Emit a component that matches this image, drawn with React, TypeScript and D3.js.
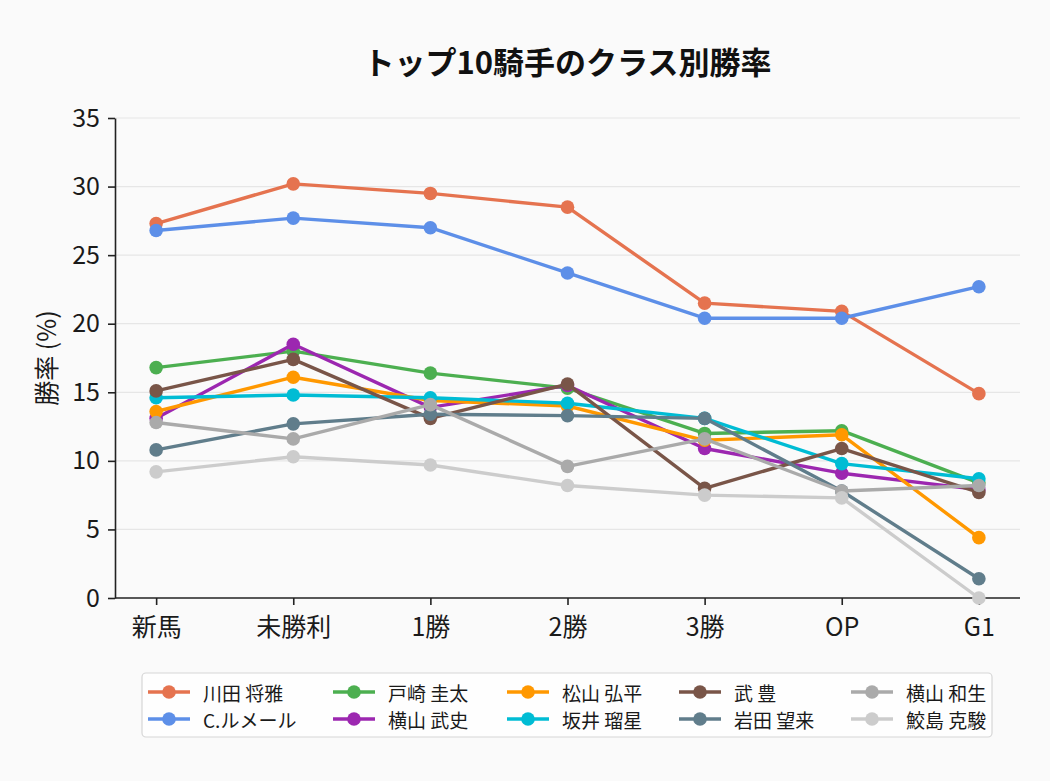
import React, { useEffect, useRef } from "react";
import * as d3 from "d3";

// classes on the x axis
const classes = ["新馬", "未勝利", "1勝", "2勝", "3勝", "OP", "G1"];
const yTicks = [0, 5, 10, 15, 20, 25, 30, 35];

const jockeys = [
  "川田 将雅",
  "C.ルメール",
  "戸崎 圭太",
  "横山 武史",
  "松山 弘平",
  "坂井 瑠星",
  "武 豊",
  "岩田 望来",
  "横山 和生",
  "鮫島 克駿",
];

const colors = [
  "#e5734f",
  "#5d8fe8",
  "#4caf50",
  "#9c27b0",
  "#ff9800",
  "#00bcd4",
  "#795548",
  "#607d8b",
  "#aaaaaa",
  "#cccccc",
];

// win rate (%) per class
const kawada = [27.3, 30.2, 29.5, 28.5, 21.5, 20.9, 14.9];
const lemaire = [26.8, 27.7, 27.0, 23.7, 20.4, 20.4, 22.7];
const tosaki = [16.8, 18.0, 16.4, 15.3, 12.0, 12.2, 8.4];
const yokoyamaTakeshi = [13.1, 18.5, 13.9, 15.5, 10.9, 9.1, 7.9];
const matsuyama = [13.6, 16.1, 14.4, 14.0, 11.5, 11.9, 4.4];
const sakai = [14.6, 14.8, 14.6, 14.2, 13.1, 9.8, 8.7];
const take = [15.1, 17.4, 13.1, 15.6, 8.0, 10.9, 7.7];
const iwata = [10.8, 12.7, 13.4, 13.3, 13.1, 7.8, 1.4];
const yokoyamaKazuo = [12.8, 11.6, 14.1, 9.6, 11.6, 7.8, 8.2];
const samejima = [9.2, 10.3, 9.7, 8.2, 7.5, 7.3, 0.0];

const series = [
  kawada,
  lemaire,
  tosaki,
  yokoyamaTakeshi,
  matsuyama,
  sakai,
  take,
  iwata,
  yokoyamaKazuo,
  samejima,
];

const App = () => {
  const chartRef = useRef<HTMLDivElement>(null);

  useEffect(() => {
    document.body.style.margin = "0";

    const width = 1050;
    const height = 781;
    const marginTop = 118;
    const marginRight = 30;
    const marginBottom = 183;
    const marginLeft = 115;
    const font = "'Noto Sans CJK JP', 'Noto Sans', sans-serif";

    const x = d3
      .scalePoint<string>()
      .domain(classes)
      .range([marginLeft, width - marginRight])
      .padding(0.3);

    const y = d3
      .scaleLinear()
      .domain([0, 35])
      .range([height - marginBottom, marginTop]);

    d3.select(chartRef.current).selectAll("*").remove();

    const svg = d3
      .select(chartRef.current)
      .append("svg")
      .attr("width", width)
      .attr("height", height)
      .attr("viewBox", [0, 0, width, height])
      .style("display", "block")
      .style("font-family", font);

    svg.append("rect").attr("width", width).attr("height", height).attr("fill", "#fafafa");

    // grid lines
    svg
      .append("g")
      .selectAll("line")
      .data(yTicks.filter((d) => d > 0))
      .join("line")
      .attr("x1", marginLeft)
      .attr("x2", width - marginRight)
      .attr("y1", (d) => y(d))
      .attr("y2", (d) => y(d))
      .attr("stroke", "#e6e6e6")
      .attr("stroke-width", 1.2);

    // axes
    const yAxis = svg
      .append("g")
      .attr("transform", `translate(${marginLeft},0)`)
      .call(d3.axisLeft(y).tickValues(yTicks).tickSize(7).tickPadding(8).tickSizeOuter(0));

    const xAxis = svg
      .append("g")
      .attr("transform", `translate(0,${height - marginBottom})`)
      .call(d3.axisBottom(x).tickSize(7).tickPadding(13).tickSizeOuter(0));

    xAxis.select(".domain").attr("d", `M${marginLeft},0H${width - marginRight}`);

    [yAxis, xAxis].forEach((g) => {
      g.select(".domain").attr("stroke", "#222").attr("stroke-width", 1.6);
      g.selectAll(".tick line").attr("stroke", "#222").attr("stroke-width", 1.6);
      g.selectAll(".tick text")
        .attr("fill", "#1a1a1a")
        .style("font-size", "25px")
        .style("font-family", font);
    });

    // lines + markers
    const line = d3
      .line<number>()
      .x((_, i) => x(classes[i]) as number)
      .y((d) => y(d));

    series.forEach((values, k) => {
      const g = svg.append("g");
      g.append("path")
        .datum(values)
        .attr("d", line)
        .attr("fill", "none")
        .attr("stroke", colors[k])
        .attr("stroke-width", 3.4)
        .attr("stroke-linejoin", "round");
      g.selectAll("circle")
        .data(values)
        .join("circle")
        .attr("cx", (_, i) => x(classes[i]) as number)
        .attr("cy", (d) => y(d))
        .attr("r", 6.8)
        .attr("fill", colors[k]);
    });

    // title
    svg
      .append("text")
      .attr("x", (marginLeft + width - marginRight) / 2)
      .attr("y", 74)
      .attr("text-anchor", "middle")
      .style("font-size", "31px")
      .style("font-weight", "bold")
      .attr("fill", "#111")
      .text("トップ10騎手のクラス別勝率");

    // y label
    svg
      .append("text")
      .attr("transform", `translate(45,${(marginTop + height - marginBottom) / 2}) rotate(-90)`)
      .attr("text-anchor", "middle")
      .attr("dominant-baseline", "central")
      .style("font-size", "25px")
      .attr("fill", "#1a1a1a")
      .text("勝率 (%)");

    // legend
    const colX = [148, 333, 507, 679, 851];
    const rowY = [692, 719];
    const legend = svg.append("g");
    legend
      .append("rect")
      .attr("x", 142)
      .attr("y", 673)
      .attr("width", 850)
      .attr("height", 64)
      .attr("rx", 4)
      .attr("fill", "#ffffff")
      .attr("fill-opacity", 0.8)
      .attr("stroke", "#d6d6d6")
      .attr("stroke-width", 1.2);

    const items = legend
      .selectAll("g.item")
      .data(jockeys)
      .join("g")
      .attr("class", "item")
      .attr("transform", (_, i) => `translate(${colX[Math.floor(i / 2)]},${rowY[i % 2]})`);

    items
      .append("line")
      .attr("x1", 0)
      .attr("x2", 42)
      .attr("stroke", (_, i) => colors[i])
      .attr("stroke-width", 3.4);

    items
      .append("circle")
      .attr("cx", 21)
      .attr("r", 6.8)
      .attr("fill", (_, i) => colors[i]);

    items
      .append("text")
      .attr("x", 55)
      .attr("dominant-baseline", "central")
      .style("font-size", "19px")
      .attr("fill", "#1a1a1a")
      .text((d) => d);
  }, []);

  return <div ref={chartRef}></div>;
};

export default App;
